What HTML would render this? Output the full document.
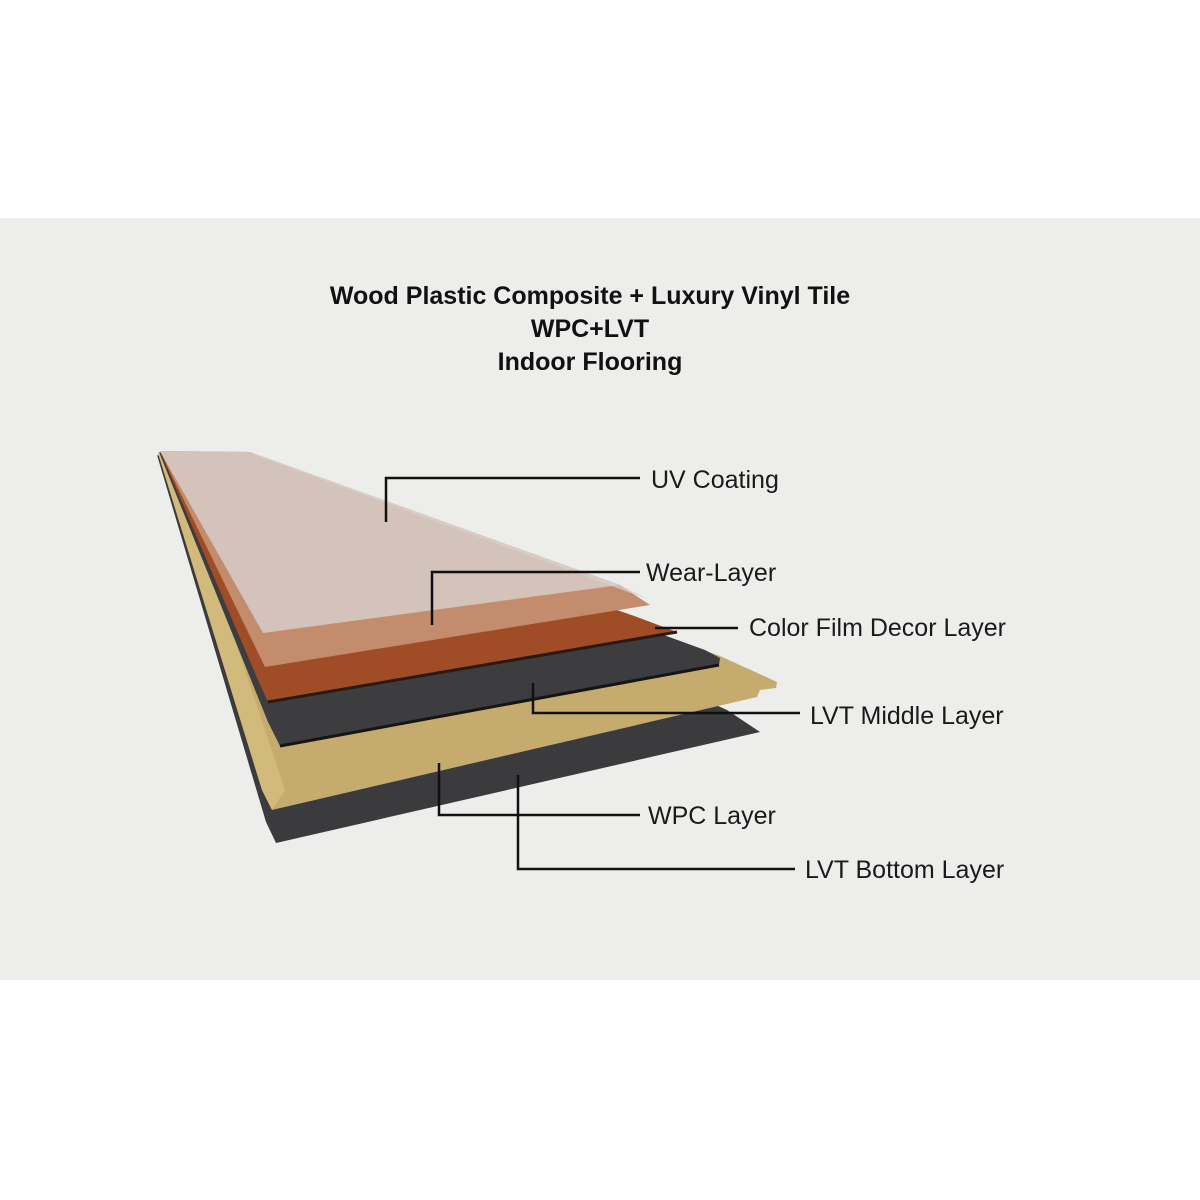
<!DOCTYPE html>
<html><head><style>
body{margin:0;width:1200px;height:1200px;background:#fff;position:relative;overflow:hidden;font-family:"Liberation Sans",Arial,sans-serif}
.bg{position:absolute;left:0;top:218px;width:1200px;height:762px;background:#ededeb}
.t{position:absolute;left:0;width:1180px;text-align:center;font-weight:bold;font-size:25px;color:#111}
.l{position:absolute;font-size:25px;color:#1a1a1a;line-height:1}
</style></head><body>
<div class="bg"></div>
<div class="t" style="top:282px">Wood Plastic Composite + Luxury Vinyl Tile</div>
<div class="t" style="top:315px">WPC+LVT</div>
<div class="t" style="top:348px">Indoor Flooring</div>
<svg width="1200" height="1200" style="position:absolute;left:0;top:0">
<!-- bottom LVT -->
<polygon points="157,455 727,710 760,732 276,843 266,822" fill="#3b3b3d"/>
<!-- WPC -->
<polygon points="158,453 720,656 777,682 776,688 760,690 757,697 272,810 262,790" fill="#c6ab6e"/>
<polygon points="158,453 175,460 285,790 272,810 262,790" fill="#d2b97c"/>
<!-- middle LVT -->
<polygon points="159,452 705,650 720,658 719,665 280,746 268,722" fill="#3d3d3f"/>
<line x1="280" y1="746" x2="719" y2="665" stroke="#151515" stroke-width="3"/>
<!-- wood -->
<polygon points="160,451 637,617 677,632 268,702 258,680" fill="#a04c26"/>
<polygon points="160,451 250,452 620,585 650,605 265,667" fill="#c38c6c"/>
<polygon points="160,451 250,452 620,585 263,633" fill="#d3c3bb"/>
<polygon points="250,452 620,585 650,600 255,455" fill="#dcd0ca" opacity="0.7"/>
<line x1="268" y1="702" x2="677" y2="632" stroke="#2a1a12" stroke-width="3"/>
<g stroke="#111" stroke-width="2.5" fill="none">
<polyline points="386,522 386,478 640,478"/>
<polyline points="432,625 432,572 640,572"/>
<polyline points="655,628 738,628"/>
<polyline points="533,683 533,713 800,713"/>
<polyline points="439,763 439,815 640,815"/>
<polyline points="518,775 518,869 795,869"/>
</g>
</svg>
<div class="l" style="left:651px;top:468px">UV Coating</div>
<div class="l" style="left:646px;top:561px">Wear-Layer</div>
<div class="l" style="left:749px;top:616px">Color Film Decor Layer</div>
<div class="l" style="left:810px;top:704px">LVT Middle Layer</div>
<div class="l" style="left:648px;top:804px">WPC Layer</div>
<div class="l" style="left:805px;top:858px">LVT Bottom Layer</div>
</body></html>
